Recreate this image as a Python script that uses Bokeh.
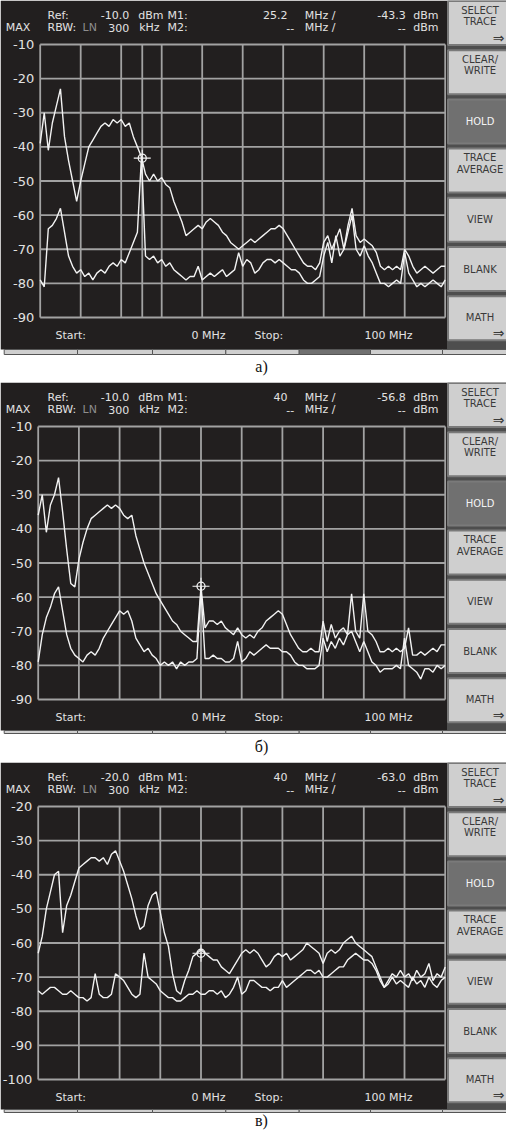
from bokeh.plotting import figure
from bokeh.models import Range1d
from bokeh.layouts import column
from bokeh.embed import file_html
from bokeh.resources import INLINE
from bokeh.core.properties import value

# ---------------- data ----------------
freq_mhz = list(range(0, 101))
grid_freqs = [0, 10, 20, 30, 40, 50, 60, 70, 80, 90, 100]

ticks_a = [-10, -20, -30, -40, -50, -60, -70, -80, -90]
ticks_b = [-10, -20, -30, -40, -50, -60, -70, -80, -90]
ticks_c = [-20, -30, -40, -50, -60, -70, -80, -90, -100]

trace_a1 = [-39, -30, -41, -33, -28, -23, -37, -44, -50, -56,
            -50, -45, -40, -38, -36, -34, -33, -34, -32, -33,
            -32, -34, -33, -37, -40, -43, -48, -50, -48, -50,
            -49, -51, -52, -56, -59, -62, -66, -65, -64, -63,
            -64, -62, -61, -62, -63, -65, -66, -68, -69, -70,
            -69, -68, -67, -68, -67, -66, -65, -64, -64, -63,
            -64, -66, -68, -70, -72, -74, -75, -75, -76, -74,
            -68, -66, -70, -67, -64, -70, -63, -58, -66, -68,
            -67, -68, -69, -71, -75, -76, -75, -76, -75, -76,
            -70, -72, -75, -77, -76, -75, -76, -77, -76, -75, -75]
trace_a2 = [-79, -81, -64, -63, -61, -58, -65, -72, -75, -77,
            -76, -78, -77, -79, -77, -76, -77, -75, -74, -75,
            -73, -74, -71, -68, -65, -43, -72, -73, -72, -74,
            -73, -75, -74, -76, -77, -78, -79, -78, -78, -75,
            -79, -78, -77, -78, -77, -76, -78, -77, -76, -71,
            -75, -73, -74, -77, -76, -74, -73, -73, -74, -73,
            -74, -75, -76, -76, -77, -79, -80, -80, -79, -78,
            -72, -68, -74, -66, -72, -70, -65, -60, -70, -72,
            -69, -72, -74, -77, -80, -80, -81, -80, -79, -80,
            -71, -77, -79, -81, -80, -81, -80, -79, -80, -81, -79]

trace_b1 = [-36, -30, -41, -33, -30, -25, -35, -46, -56, -57,
            -49, -44, -40, -37, -36, -35, -34, -33, -34, -33,
            -34, -36, -37, -36, -42, -46, -50, -53, -56, -59,
            -61, -63, -65, -67, -68, -70, -71, -72, -73, -73,
            -57, -69, -67, -67, -68, -67, -69, -70, -71, -69,
            -71, -72, -71, -72, -70, -69, -67, -66, -65, -64,
            -65, -68, -71, -73, -75, -76, -76, -75, -76, -76,
            -67, -73, -68, -72, -70, -69, -71, -59, -70, -72,
            -59, -70, -71, -73, -76, -76, -75, -76, -75, -76,
            -75, -69, -77, -77, -76, -77, -76, -75, -76, -74, -74]
trace_b2 = [-79, -71, -66, -63, -59, -57, -64, -71, -75, -77,
            -78, -79, -77, -76, -77, -75, -72, -70, -68, -66,
            -64, -65, -64, -67, -72, -74, -76, -75, -77, -78,
            -80, -79, -80, -79, -81, -79, -80, -79, -79, -78,
            -58, -78, -78, -77, -78, -78, -79, -79, -78, -73,
            -79, -78, -76, -77, -76, -75, -74, -75, -75, -75,
            -76, -76, -77, -79, -80, -80, -81, -81, -81, -80,
            -72, -76, -73, -75, -72, -74, -71, -70, -73, -76,
            -73, -76, -79, -80, -82, -81, -81, -81, -80, -81,
            -72, -80, -81, -82, -84, -81, -81, -82, -80, -81, -80]

trace_c1 = [-63, -58, -50, -45, -40, -39, -57, -49, -46, -42,
            -38, -37, -36, -35, -35, -36, -35, -37, -34, -33,
            -36, -39, -43, -47, -52, -56, -55, -49, -46, -45,
            -51, -57, -61, -69, -74, -75, -71, -68, -64, -63,
            -62, -63, -64, -65, -65, -67, -68, -69, -67, -65,
            -63, -62, -63, -62, -63, -65, -67, -66, -64, -63,
            -64, -63, -65, -64, -63, -62, -60, -61, -62, -63,
            -66, -63, -62, -63, -62, -60, -59, -58, -60, -61,
            -62, -63, -64, -67, -70, -73, -71, -69, -70, -68,
            -70, -69, -71, -68, -70, -69, -66, -71, -69, -70, -67]
trace_c2 = [-74, -75, -74, -73, -73, -74, -75, -75, -74, -75,
            -76, -76, -77, -76, -69, -75, -76, -76, -75, -69,
            -70, -71, -73, -75, -76, -75, -63, -70, -71, -72,
            -74, -75, -76, -76, -77, -77, -76, -75, -75, -74,
            -75, -75, -74, -74, -75, -74, -76, -75, -73, -70,
            -75, -74, -71, -71, -72, -73, -73, -74, -73, -73,
            -71, -73, -72, -71, -70, -69, -68, -68, -69, -68,
            -70, -70, -69, -68, -67, -67, -65, -64, -63, -64,
            -65, -65, -66, -68, -71, -73, -72, -70, -72, -71,
            -72, -73, -70, -72, -71, -73, -70, -72, -73, -71, -70]

marker_freq = [25.2, 40.0, 40.0]
marker_level = [-43.3, -56.8, -63.0]
ref_levels = ["-10.0", "-10.0", "-20.0"]
m1_freq_txt = ["25.2", "40", "40"]
m1_level_txt = ["-43.3", "-56.8", "-63.0"]
captions = ["а)", "б)", "в)"]
button_labels = [("SELECT", "TRACE", True, False), ("CLEAR/", "WRITE", False, False),
                 ("HOLD", "", False, True), ("TRACE", "AVERAGE", False, False),
                 ("VIEW", "", False, False), ("BLANK", "", False, False),
                 ("MATH", "", True, False)]

# ---------------- styling ----------------
DARK = "#221f1f"
GRID = "#a2a2a2"
TRACE = "#f2f2f2"
TXT = "#e2e2e2"
BTN = "#cfcfcf"
BTN_EDGE = "#7a7a7a"
BTN_DARK = "#707070"
BTN_TXT = "#3a3a3a"
COL_BG = "#4e4e4e"
FONT = value("DejaVu Sans")

W = 506
GRID_TOP = 44.0
GRID_BOT = 317.0
GRID_RIGHT = 444.7
BTN_X0 = 446.5
BTN_CX = 479.5


def panel(i, H, gx, ticks, tr1, tr2, marker_line, dark_bot, strip_bot, strip_cells, cap_y):
    ref_top, ref_bot = ticks[0], ticks[-1]
    kx = (GRID_RIGHT - gx) / (grid_freqs[-1] - grid_freqs[0])
    ky = (GRID_BOT - GRID_TOP) / (ref_top - ref_bot)
    xr = Range1d(grid_freqs[0] - gx / kx, grid_freqs[0] + (W - gx) / kx)
    yr = Range1d(ref_bot - (H - GRID_BOT) / ky, ref_top + GRID_TOP / ky)
    p = figure(width=W, height=H, x_range=xr, y_range=yr, x_axis_type=None,
               y_axis_type=None, toolbar_location=None, output_backend="svg",
               min_border=0, outline_line_color=None, title=None,
               background_fill_color="white", border_fill_color="white")
    p.extra_x_ranges = {"px": Range1d(0, W)}
    p.extra_y_ranges = {"px": Range1d(H, 0)}
    PX = dict(x_range_name="px", y_range_name="px")

    # screen background
    p.quad(left=[0], right=[BTN_X0], top=[0], bottom=[dark_bot],
           fill_color=DARK, line_color=None, **PX)
    p.quad(left=[BTN_X0], right=[W], top=[0], bottom=[dark_bot],
           fill_color=COL_BG, line_color=None, **PX)
    # bottom soft-key strip
    lefts = [3.7, 77, 152, 225.3, 298.7, 370, 442]
    rights = [77, 152, 225.3, 298.7, 370, 442, 514]
    cols = [BTN] * 7
    if strip_cells:
        cols[4] = BTN_DARK
    p.quad(left=lefts, right=rights, top=[dark_bot] * 7, bottom=[strip_bot] * 7,
           fill_color=cols, line_color="#555555", line_width=1, **PX)

    # soft keys on the right
    for j, (l1, l2, arrow, dark) in enumerate(button_labels):
        top = 0.5 + 49.2 * j
        p.quad(left=[BTN_X0 + 1], right=[W + 4], top=[top], bottom=[top + 44],
               fill_color=BTN_DARK if dark else BTN, line_color=BTN_EDGE,
               line_width=2, **PX)
        tc = "#f4f4f4" if dark else BTN_TXT
        if l2:
            p.text(x=[BTN_CX, BTN_CX], y=[top + 9, top + 20.5], text=[l1, l2],
                   text_align="center", text_baseline="middle", text_font=FONT,
                   text_font_size="10px", text_color=tc, **PX)
        else:
            yy = top + 21 if arrow else top + 22
            p.text(x=[BTN_CX], y=[yy], text=[l1], text_align="center",
                   text_baseline="middle", text_font=FONT,
                   text_font_size="10px", text_color=tc, **PX)
        if arrow:
            p.text(x=[504], y=[top + 36.5], text=["⇒"], text_align="right",
                   text_baseline="middle", text_font=FONT,
                   text_font_size="14px", text_color=tc, **PX)

    # graticule
    p.segment(x0=grid_freqs, x1=grid_freqs, y0=[ref_top] * len(grid_freqs),
              y1=[ref_bot] * len(grid_freqs), line_color=GRID, line_width=1.8)
    p.segment(x0=[grid_freqs[0]] * len(ticks), x1=[grid_freqs[-1]] * len(ticks),
              y0=ticks, y1=ticks, line_color=GRID, line_width=1.8)
    if marker_line:
        p.segment(x0=[marker_freq[i]], x1=[marker_freq[i]], y0=[ref_top],
                  y1=[ref_bot], line_color=GRID, line_width=1.8)

    # level labels
    p.text(x=[gx - 6] * len(ticks), y=ticks, text=[str(t) for t in ticks],
           x_range_name="px", text_align="right", text_baseline="middle",
           text_font=FONT, text_font_size="13px", text_color=TXT)

    # traces
    p.line(freq_mhz, tr2, line_color=TRACE, line_width=1.4)
    p.line(freq_mhz, tr1, line_color=TRACE, line_width=1.4)

    # marker
    p.scatter(x=[marker_freq[i]], y=[marker_level[i]], marker="circle", size=8,
              fill_color=None, line_color=TRACE, line_width=1.3)
    p.scatter(x=[marker_freq[i]], y=[marker_level[i]], marker="cross", size=17,
              line_color=TRACE, line_width=1.1)

    # header
    r1, r2 = 14.5, 27
    hdr = dict(text_font=FONT, text_font_size="11px", text_baseline="middle", **PX)
    p.text(x=[47, 137.7, 167, 5.3, 47, 138.7, 167],
           y=[r1, r1, r1, r2, r2, r2, r2],
           text=["Ref:", "dBm", "M1:", "MAX", "RBW:", "kHz", "M2:"],
           text_align="left", text_color=TXT, **hdr)
    p.text(x=[82], y=[r2], text=["LN"], text_align="left", text_color="#8e8e8e", **hdr)
    p.text(x=[128.7, 128.7, 287, 293.7, 335, 335, 405.3, 405.3, 438, 438],
           y=[r1, r2, r1, r2, r1, r2, r1, r2, r1, r2],
           text=[ref_levels[i], "300", m1_freq_txt[i], "--", "MHz /", "MHz /",
                 m1_level_txt[i], "--", "dBm", "dBm"],
           text_align="right", text_color=TXT, **hdr)

    # start / stop line
    ys = 335
    p.text(x=[55, 254], y=[ys, ys], text=["Start:", "Stop:"], text_align="left",
           text_color=TXT, **hdr)
    p.text(x=[225, 412], y=[ys, ys], text=["0 MHz", "100 MHz"], text_align="right",
           text_color=TXT, **hdr)

    # caption
    p.text(x=[261], y=[cap_y], text=[captions[i]], text_align="center",
           text_baseline="middle", text_font=value("Liberation Serif"),
           text_font_size="16px", text_color="#111111", **PX)
    return p


pa = panel(0, 382, 39.7, ticks_a, trace_a1, trace_a2, True, 349, 354, True, 366)
pb = panel(1, 380, 37.7, ticks_b, trace_b1, trace_b2, False, 348, 351, False, 364)
pc = panel(2, 370, 37.7, ticks_c, trace_c1, trace_c2, False, 347, 350, False, 358)

layout = column(pa, pb, pc, spacing=0)
open("out.html", "w").write(file_html(layout, INLINE, title="spectrum"))
